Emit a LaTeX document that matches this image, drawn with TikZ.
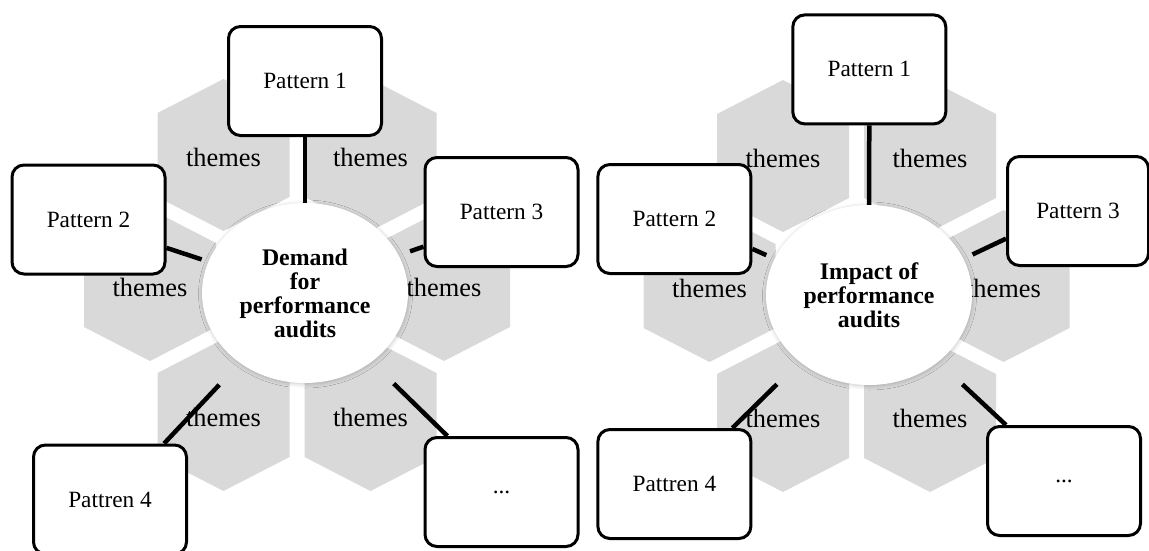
\documentclass[tikz,border=0pt]{standalone}
\usepackage{fontspec}
\setmainfont{Liberation Serif}
\usepackage{tikz}
\usetikzlibrary{shapes.geometric, shadows.blur}
% one grey cell of the honeycomb, #1/#2 = centre
\def\hexa#1#2{(#1,#2-76) -- (#1+66,#2-42) -- (#1+66,#2+42) -- (#1,#2+76) -- (#1-66,#2+42) -- (#1-66,#2-42) -- cycle}
\tikzset{
  hexfill/.style={fill=black!15},
  theme/.style={font=\fontsize{26.4}{28}\selectfont, inner sep=0pt},
  hub/.style={ellipse, fill=white, minimum width=206pt, minimum height=180pt, inner sep=0pt, align=center,
    font=\bfseries\fontsize{23.8}{24}\selectfont,
    blur shadow={shadow xshift=0.5pt, shadow yshift=-1pt, shadow blur radius=4pt, shadow opacity=22}},
  patbox/.style={draw, line width=3pt, rounded corners=12pt, fill=white, minimum width=153pt, minimum height=109pt,
    inner sep=0pt, font=\fontsize{23.3}{25}\selectfont},
  link/.style={line width=4.5pt}
}

\begin{document}
\begin{tikzpicture}[x=1pt, y=-1pt]
	\useasboundingbox (0,0) rectangle (1149,550);

%	left: demand
	\foreach \hx/\hy/\n in {-73.5/-130/a, 73.5/-130/b, -147/0/c, 147/0/d, -73.5/130/e, 73.5/130/f}{
		\fill[hexfill] \hexa{297+\hx}{285+\hy};
		\node[theme] (dth\n) at (297+\hx, 287+\hy) {themes};
	}
	\node[hub] (dem) at (305,293) {Demand\\for\\performance\\audits};
	\node[patbox] (dP1) at (305,81) {Pattern 1};
	\node[patbox] (dP2) at (88.5,219.5) {Pattern 2};
	\node[patbox] (dP3) at (501.5,212) {Pattern 3};
	\node[patbox] (dP4) at (110,499.5) {Pattren 4};
	\node[patbox] (dP5) at (501.5,492) {...};
	\draw[link] (dem.north) -- (dP1.south);
	\draw[link, shorten <=7pt] (dem.162) -- (dP2.-20);
	\draw[link, shorten <=12pt] (dem.22) -- (dP3.204);
	\draw[link, shorten <=30pt] (dem.227) -- (dP4.46);
	\draw[link, shorten <=31pt] (dem.314) -- (dP5.134);

%	right: impact
	\foreach \hx/\hy/\n in {-73.5/-130/a, 73.5/-130/b, -147/0/c, 147/0/d, -73.5/130/e, 73.5/130/f}{
		\fill[hexfill] \hexa{856.5+\hx}{286+\hy};
		\node[theme] (ith\n) at (856.5+\hx, 288+\hy) {themes};
	}
	\node[hub] (imp) at (869,295) {Impact of\\performance\\audits};
	\node[patbox] (iP1) at (869.3,69.4) {Pattern 1};
	\node[patbox] (iP2) at (674.4,219) {Pattern 2};
	\node[patbox, minimum width=141pt] (iP3) at (1078,211) {Pattern 3};
	\node[patbox] (iP4) at (674.4,484) {Pattren 4};
	\node[patbox] (iP5) at (1064,481) {...};
	\draw[link] (imp.north) -- (iP1.south);
	\draw[link, shorten <=9pt] (imp.159) -- (iP2.-21);
	\draw[link, shorten <=10pt] (imp.21) -- (iP3.201);
	\draw[link, shorten <=32pt] (imp.224) -- (iP4.44);
	\draw[link, shorten <=33pt] (imp.316) -- (iP5.136);
\end{tikzpicture}
\end{document}
